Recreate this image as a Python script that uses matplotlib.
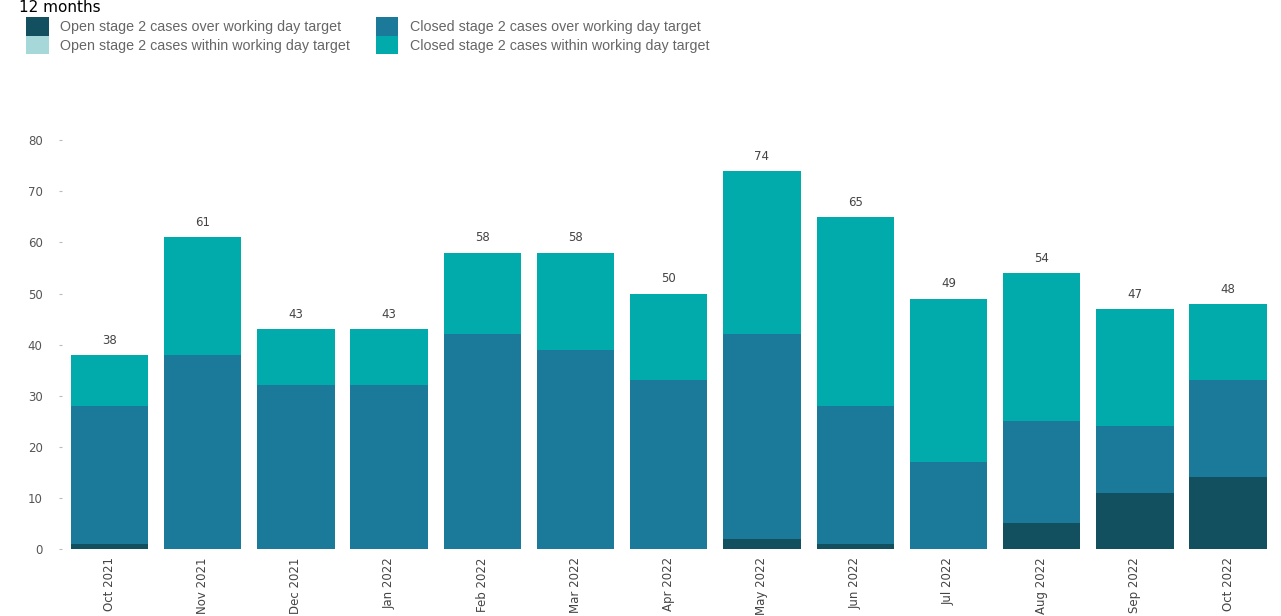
import matplotlib.pyplot as plt
from matplotlib.patches import Patch
import numpy as np

# data
months = ["Oct 2021", "Nov 2021", "Dec 2021", "Jan 2022", "Feb 2022", "Mar 2022", "Apr 2022",
          "May 2022", "Jun 2022", "Jul 2022", "Aug 2022", "Sep 2022", "Oct 2022"]
open_over = [1, 0, 0, 0, 0, 0, 0, 2, 1, 0, 5, 11, 14]
open_within = [0, 0, 0, 0, 0, 0, 0, 0, 0, 0, 0, 0, 0]
closed_over = [27, 38, 32, 32, 42, 39, 33, 40, 27, 17, 20, 13, 19]
closed_within = [10, 23, 11, 11, 16, 19, 17, 32, 37, 32, 29, 23, 15]

labels = ["Open stage 2 cases over working day target",
          "Open stage 2 cases within working day target",
          "Closed stage 2 cases over working day target",
          "Closed stage 2 cases within working day target"]
colors = ["#124f5f", "#a6d7d9", "#1b7a9a", "#02abab"]

fig = plt.figure(figsize=(12.81, 6.16), dpi=100)
ax = fig.add_axes([0.0484, 0.1088, 0.943, 0.705])

x = np.arange(len(months))
series = [open_over, open_within, closed_over, closed_within]
bottom = np.zeros(len(months))
for vals, c in zip(series, colors):
    ax.bar(x, vals, 0.83, bottom=bottom, color=c, linewidth=0)
    bottom += np.array(vals)

for xi, tot in zip(x, bottom):
    ax.text(xi, tot + 1.6, f"{int(tot)}", ha="center", va="bottom", fontsize=8.5, color="#444444")

ax.set_xlim(-0.51, 12.45)
ax.set_ylim(0, 85)
ax.set_yticks(np.arange(0, 81, 10))
ax.set_xticks(x)
ax.set_xticklabels(months, rotation=90, fontsize=8.5, color="#444444")
ax.tick_params(axis="y", labelsize=8.5, labelcolor="#555555", color="#bbbbbb", length=2, pad=12)
ax.tick_params(axis="x", length=0, pad=6)
for s in ax.spines.values():
    s.set_visible(False)

fig.text(0.015, 1.0, "12 months", fontsize=11, ha="left", va="top", color="black")

handles = [Patch(facecolor=c) for c in colors]
leg = fig.legend(handles, labels, ncol=2,
                 loc="upper left", bbox_to_anchor=(0.02, 0.972), frameon=False,
                 prop={"family": "Liberation Sans", "size": 10.3},
                 handlelength=1.6, handleheight=1.6, labelspacing=0.0,
                 handletextpad=0.8, columnspacing=1.8, borderpad=0.0, borderaxespad=0)
for t in leg.get_texts():
    t.set_color("#666666")

fig.savefig("out.png", dpi=100)
